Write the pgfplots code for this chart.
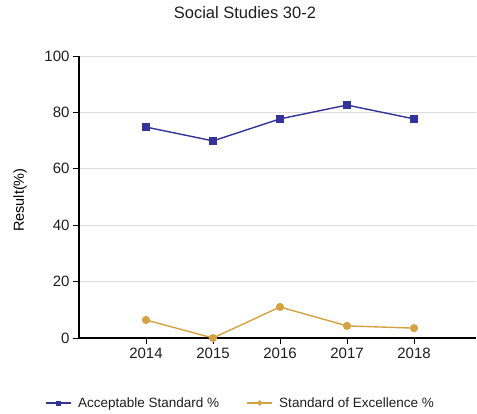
\documentclass[border=0pt]{standalone}
\usepackage{fontspec}
\setmainfont{Liberation Sans}
\usepackage{pgfplots}
\pgfplotsset{compat=1.18}
\definecolor{accblue}{RGB}{51,51,153}
\definecolor{excgold}{RGB}{212,162,64}
\definecolor{gridgray}{RGB}{220,220,220}
\definecolor{txt}{RGB}{30,30,30}
\begin{document}
\begin{tikzpicture}
\begin{axis}[
  scale only axis,
  width=397pt, height=282pt,
  xmin=2013, xmax=2018.925,
  ymin=0, ymax=100,
  xtick={2014,2015,2016,2017,2018},
  ytick={0,20,40,60,80,100},
  xticklabel style={/pgf/number format/1000 sep={}},
  /pgf/number format/assume math mode=true,
  axis x line=bottom, axis y line=left,
  axis line style={-, black, line width=1.1pt},
  tick align=outside,
  major tick length=6pt,
  tick style={black, line width=1pt},
  ymajorgrids,
  grid style={gridgray, line width=1pt},
  tick label style={font=\fontsize{15}{18}\selectfont, text=txt},
  title={Social Studies 30-2},
  title style={font=\fontsize{16.5}{19}\selectfont, text=txt, at={(axis description cs:0.418,1.131)}, anchor=center},
  ylabel={Result(\%)},
  ylabel style={font=\fontsize{14.5}{17}\selectfont, text=black, at={(axis description cs:-0.1486,0.489)}, anchor=center, rotate=0},
  legend columns=2,
  legend style={draw=none, fill=none, font=\fontsize{13.5}{16}\selectfont, text=txt,
    at={(axis description cs:0.4068,-0.2305)}, anchor=center,
    /tikz/every even column/.append style={column sep=25pt},
    /tikz/every odd column/.append style={column sep=4pt},
    inner sep=0pt},
  legend image code/.code={
    \draw[#1, line width=2pt, mark size=1.5pt, mark repeat=2, mark phase=2] plot coordinates {(0pt,0pt) (12.5pt,0pt) (25pt,0pt)};
  },
  clip=false,
]
\addplot[color=accblue, line width=1.4pt, mark=square*, mark size=3.4pt]
  coordinates {(2014,74.8) (2015,69.9) (2016,77.7) (2017,82.6) (2018,77.7)};
\addlegendentry{Acceptable Standard \%}
\addplot[color=excgold, line width=1.4pt, mark=*, mark size=3.3pt]
  coordinates {(2014,6.4) (2015,0) (2016,11.0) (2017,4.3) (2018,3.5)};
\addlegendentry{Standard of Excellence \%}
\end{axis}
\path[use as bounding box] (-79pt,-75pt) rectangle (398pt,338pt);
\end{tikzpicture}
\end{document}
